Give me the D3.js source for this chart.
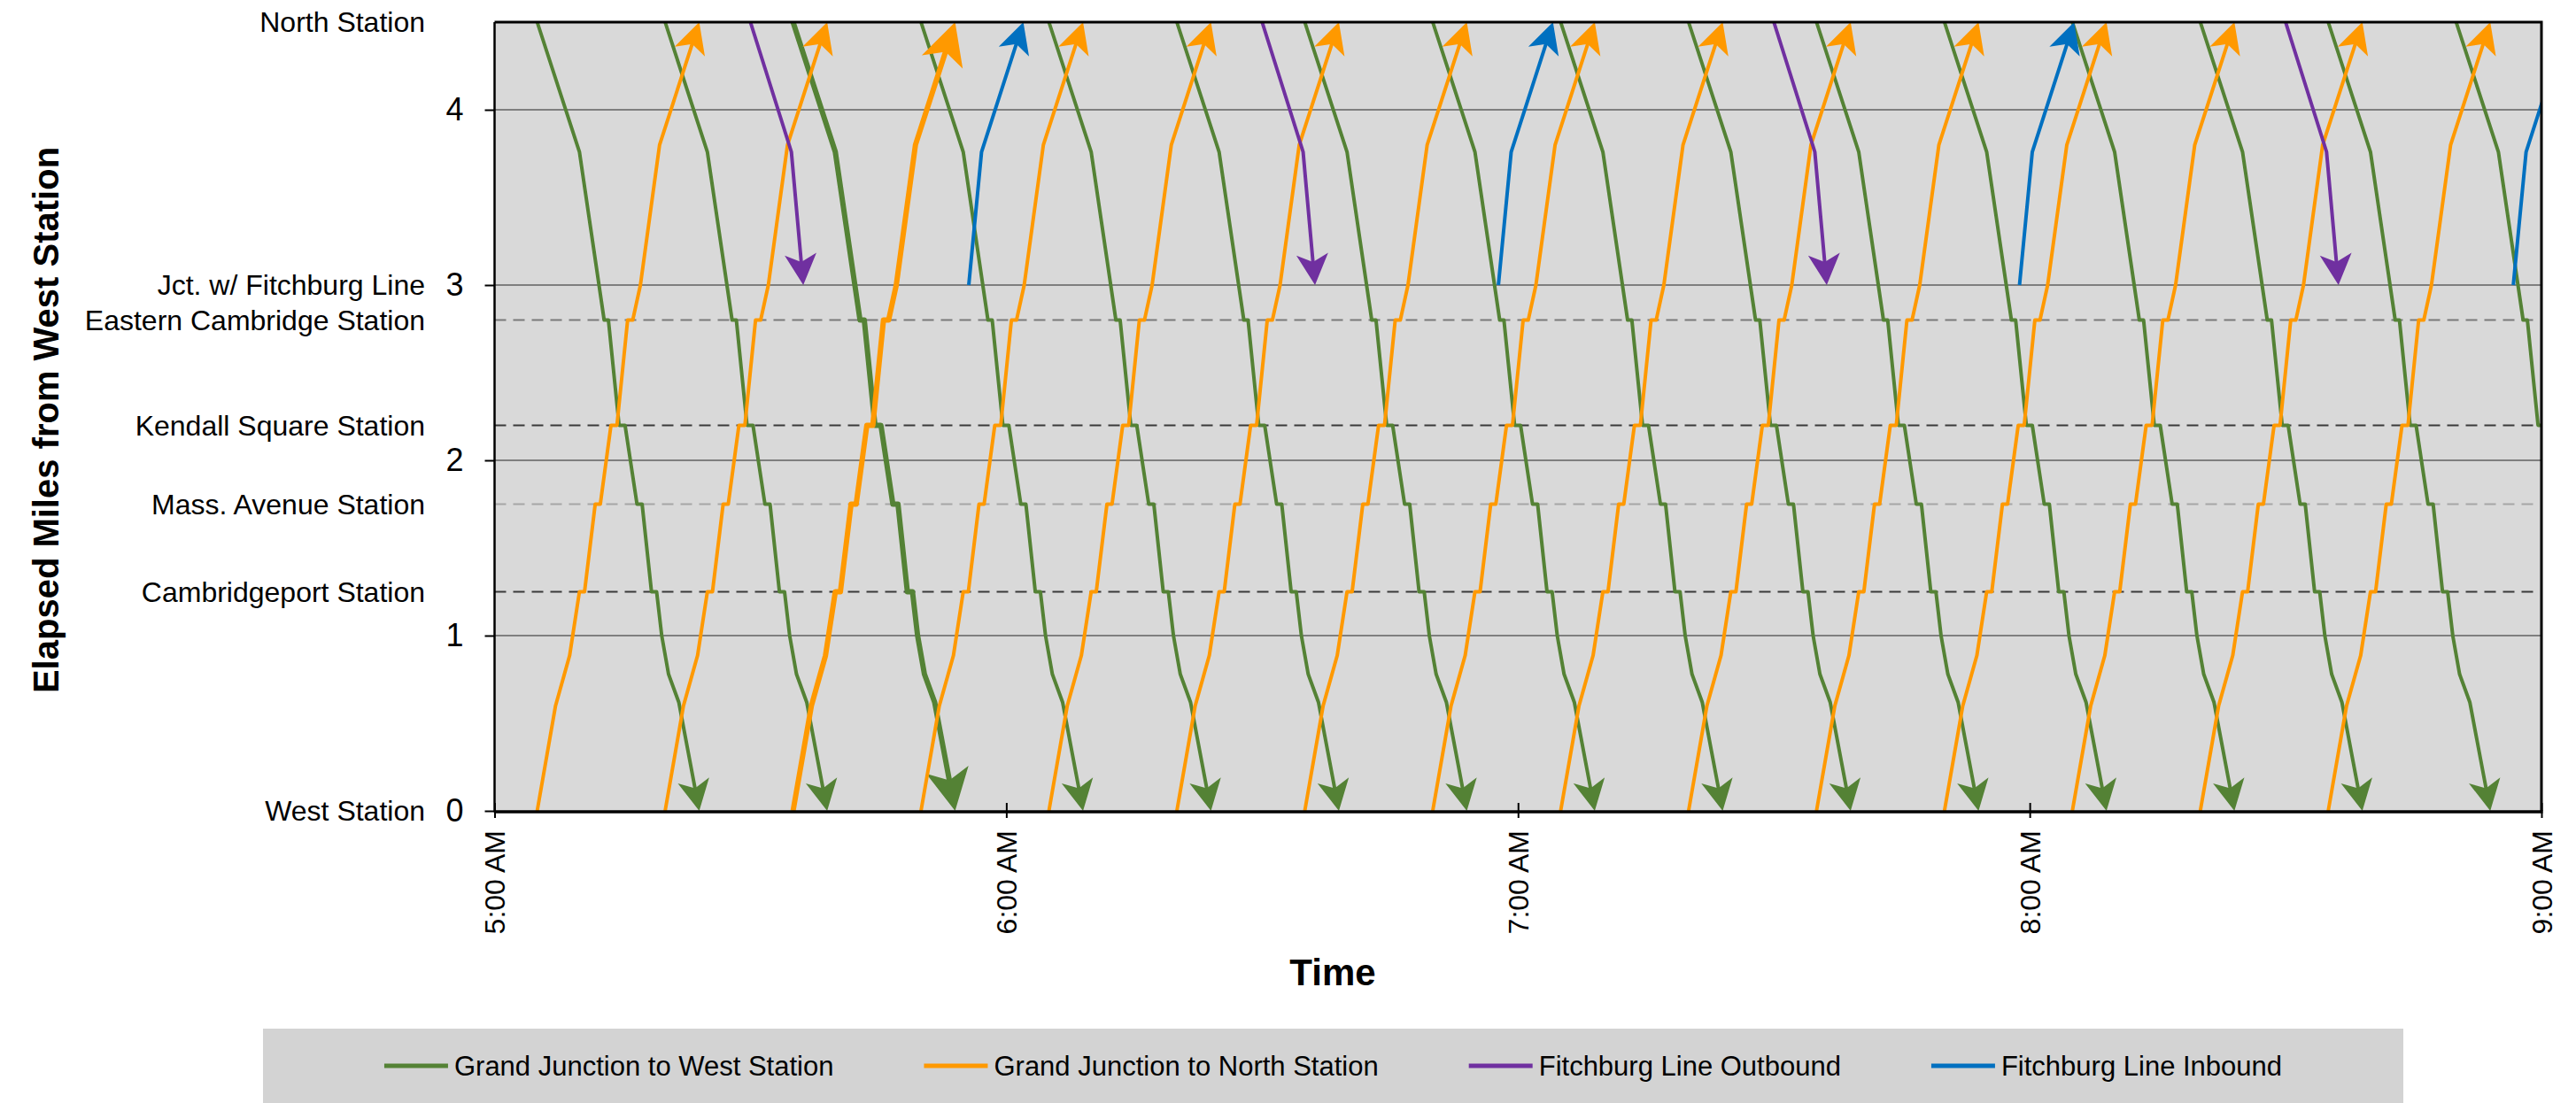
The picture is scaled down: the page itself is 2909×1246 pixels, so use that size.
<!DOCTYPE html>
<html>
<head>
<meta charset="utf-8">
<script src="https://cdn.jsdelivr.net/npm/d3@7"></script>
<style>
  html, body { margin: 0; padding: 0; background: #ffffff; }
  svg { display: block; }
  text { font-family: Arial, "Liberation Sans", Helvetica, sans-serif; fill: #000; }
</style>
</head>
<body>
<svg id="chart" width="2909" height="1246"></svg>
<script>
// ---- Timetable: departure time of each trip from its origin (h:mm[:ss]) ----
const westboundDepartures = ["5:05","5:20","5:35","5:50","6:05","6:20","6:35","6:50",
                             "7:05","7:20","7:35","7:50","8:05","8:20","8:35","8:50"];
const northboundDepartures = ["5:05","5:20","5:35","5:50","6:05","6:20","6:35","6:50",
                              "7:05","7:20","7:35","7:50","8:05","8:20","8:35"];
const fitchburgOutboundDepartures = ["5:30","6:30","7:30","8:30"];
const fitchburgInboundDepartures = ["5:55:36","6:57:42","7:58:48","8:56:42"];
// Grand Junction trips drawn with a heavier stroke
const highlightedDepartures = ["5:35"];

// ---- Run profiles: [minutes after departure, miles from West Station] ----
const westboundRun = [[0,4.5],[4.95,3.76],[7.85,2.8],[8.35,2.8],[9.6,2.2],[10.3,2.2],
                      [11.7,1.75],[12.3,1.75],[13.4,1.25],[14.0,1.25],[14.6,1.0],
                      [15.4,0.78],[16.6,0.62],[19.0,0]];
const northboundRun = [[0,0],[2.15,0.6],[3.8,0.886],[4.95,1.25],[5.55,1.25],[6.8,1.75],
                       [7.4,1.75],[8.65,2.2],[9.35,2.2],[10.6,2.8],[11.2,2.8],[12.1,3.0],
                       [14.35,3.8],[19.0,4.5]];
const fitchburgOutboundRun = [[0,4.5],[4.8,3.76],[6.2,3.0]];
const fitchburgInboundRun = [[0,3.0],[1.5,3.76],[6.4,4.5]];

// ---- Axes and labels ----
const stationNames = ["North Station","Jct. w/ Fitchburg Line","Eastern Cambridge Station",
                      "Kendall Square Station","Mass. Avenue Station","Cambridgeport Station","West Station"];
const stationMiles = [4.5, 3.0, 2.8, 2.2, 1.75, 1.25, 0];
const platformMiles = [2.8, 2.2, 1.75, 1.25];
const mileTicks = [0, 1, 2, 3, 4];
const timeTicks = ["5:00","6:00","7:00","8:00","9:00"];
const seriesNames = ["Grand Junction to West Station","Grand Junction to North Station",
                     "Fitchburg Line Outbound","Fitchburg Line Inbound"];

// ---- Styling ----
const seriesColors = ["#548235", "#FF9900", "#7030A0", "#0070C0"];
const platformStroke = ["#7a7a7a", "#3a3a3a", "#a6a6a6", "#3a3a3a"];

const W = 2909, H = 1246;
const plot = { left: 558.5, right: 2870, top: 25, bottom: 916 };

const parseClock = (s) => {
  const p = s.split(":").map(Number);
  return new Date(2000, 0, 1, p[0], p[1], p[2] || 0);
};

const x = d3.scaleTime()
  .domain([parseClock(timeTicks[0]), parseClock(timeTicks[timeTicks.length - 1])])
  .range([plot.left, plot.right]);
const y = d3.scaleLinear().domain([0, 4.5]).range([plot.bottom, plot.top]);

const svg = d3.select("#chart");

// plot background
svg.append("rect")
  .attr("x", plot.left).attr("y", plot.top)
  .attr("width", plot.right - plot.left).attr("height", plot.bottom - plot.top)
  .attr("fill", "#d9d9d9");

// major gridlines
svg.append("g").selectAll("line")
  .data(mileTicks.filter(d => d > 0))
  .join("line")
  .attr("x1", plot.left).attr("x2", plot.right)
  .attr("y1", d => y(d)).attr("y2", d => y(d))
  .attr("stroke", "#7f7f7f").attr("stroke-width", 2);

// station reference lines (dashed)
svg.append("g").selectAll("line")
  .data(platformMiles)
  .join("line")
  .attr("x1", plot.left).attr("x2", plot.right - 6)
  .attr("y1", d => y(d)).attr("y2", d => y(d))
  .attr("stroke", (d, i) => platformStroke[i])
  .attr("stroke-width", 2)
  .attr("stroke-dasharray", "13,8");

// ---- trips ----
svg.append("defs").append("clipPath").attr("id", "plotClip")
  .append("rect")
  .attr("x", plot.left).attr("y", plot.top - 2)
  .attr("width", plot.right - plot.left).attr("height", plot.bottom - plot.top + 4);

const trips = [];
function addTrips(departures, run, series) {
  departures.forEach(dep => {
    const t0 = parseClock(dep);
    trips.push({
      series,
      heavy: series < 2 && highlightedDepartures.includes(dep),
      points: run.map(([m, mi]) => [new Date(t0.getTime() + m * 60000), mi])
    });
  });
}
addTrips(westboundDepartures, westboundRun, 0);
addTrips(northboundDepartures, northboundRun, 1);
addTrips(fitchburgOutboundDepartures, fitchburgOutboundRun, 2);
addTrips(fitchburgInboundDepartures, fitchburgInboundRun, 3);

const tripLayer = svg.append("g").attr("clip-path", "url(#plotClip)");
const line = d3.line().x(d => d[0]).y(d => d[1]);

trips.forEach(trip => {
  const px = trip.points.map(d => [x(d[0]), y(d[1])]);
  const tip = px[px.length - 1];
  const prev = px[px.length - 2];
  const ang = Math.atan2(tip[1] - prev[1], tip[0] - prev[0]);
  const k = trip.heavy ? 1.35 : 1;
  // pull the stroke end back under the arrowhead
  const trim = 14 * k;
  const body = px.slice(0, -1).concat([[tip[0] - Math.cos(ang) * trim, tip[1] - Math.sin(ang) * trim]]);
  const color = seriesColors[trip.series];
  tripLayer.append("path")
    .attr("d", line(body))
    .attr("fill", "none")
    .attr("stroke", color)
    .attr("stroke-width", trip.heavy ? 6 : 4)
    .attr("stroke-linejoin", "round");
  tripLayer.append("path")
    .attr("d", `M0,0 L${-35 * k},${-18 * k} L${-26 * k},0 L${-35 * k},${18 * k} Z`)
    .attr("fill", color)
    .attr("transform", `translate(${tip[0]},${tip[1]}) rotate(${ang * 180 / Math.PI})`);
});

// ---- frame ----
svg.append("path")
  .attr("d", `M${plot.left},${plot.top}H${plot.right}V${plot.bottom}`)
  .attr("fill", "none").attr("stroke", "#000").attr("stroke-width", 3);
svg.append("line")
  .attr("x1", plot.left).attr("x2", plot.left)
  .attr("y1", plot.top).attr("y2", plot.bottom + 1.5)
  .attr("stroke", "#000").attr("stroke-width", 2.5);
svg.append("line")
  .attr("x1", plot.left).attr("x2", plot.right + 1.5)
  .attr("y1", plot.bottom + 1).attr("y2", plot.bottom + 1)
  .attr("stroke", "#000").attr("stroke-width", 3.5);

// ---- y axis ----
const yAxis = svg.append("g")
  .attr("transform", `translate(${plot.left},0)`)
  .call(d3.axisLeft(y).tickValues(mileTicks).tickSize(11).tickPadding(24).tickFormat(d3.format("d")));
yAxis.select(".domain").remove();
yAxis.selectAll(".tick line").attr("stroke", "#000").attr("stroke-width", 2);
yAxis.selectAll(".tick text")
  .attr("font-size", 36).attr("font-family", 'Arial, "Liberation Sans", sans-serif').attr("fill", "#000");

// station names beside the distance axis
svg.append("g").selectAll("text")
  .data(stationNames)
  .join("text")
  .attr("x", 480)
  .attr("y", (d, i) => y(stationMiles[i]))
  .attr("dy", "0.35em")
  .attr("text-anchor", "end")
  .attr("font-size", 32)
  .text(d => d);

// ---- x axis ----
const xAxis = svg.append("g")
  .attr("transform", `translate(0,${plot.bottom + 1})`)
  .call(d3.axisBottom(x).tickValues(timeTicks.map(parseClock)).tickSize(0)
        .tickFormat(d3.timeFormat("%-I:%M %p")));
xAxis.select(".domain").remove();
xAxis.selectAll(".tick line")
  .attr("y1", -10).attr("y2", 7).attr("stroke", "#000").attr("stroke-width", 2);
xAxis.selectAll(".tick text")
  .attr("font-size", 32).attr("font-family", 'Arial, "Liberation Sans", sans-serif').attr("fill", "#000")
  .attr("text-anchor", "end")
  .attr("transform", "rotate(-90)")
  .attr("x", -21).attr("y", 0).attr("dy", "0.35em");

// ---- axis titles ----
svg.append("text")
  .attr("transform", `translate(52,${(plot.top + plot.bottom) / 2 + 4}) rotate(-90)`)
  .attr("text-anchor", "middle").attr("dy", "0.35em")
  .attr("font-size", 40).attr("font-weight", "bold")
  .text("Elapsed Miles from West Station");

svg.append("text")
  .attr("x", 1505).attr("y", 1098).attr("dy", "0.35em")
  .attr("text-anchor", "middle")
  .attr("font-size", 42).attr("font-weight", "bold")
  .text("Time");

// ---- legend ----
const legendBox = { x: 297, y: 1162, w: 2417, h: 90 };
svg.append("rect")
  .attr("x", legendBox.x).attr("y", legendBox.y)
  .attr("width", legendBox.w).attr("height", legendBox.h)
  .attr("fill", "#d3d3d3");

const legend = svg.append("g");
const sampleLen = 72, sampleGap = 7, itemGap = 102;
const legendY = 1204;
let cursor = 0;
const items = seriesNames.map((name, i) => {
  const g = legend.append("g");
  g.append("line")
    .attr("x1", 0).attr("x2", sampleLen)
    .attr("y1", 0).attr("y2", 0)
    .attr("stroke", seriesColors[i]).attr("stroke-width", 5);
  const t = g.append("text")
    .attr("x", sampleLen + sampleGap).attr("y", 0).attr("dy", "0.35em")
    .attr("font-size", 31)
    .text(name);
  const w = sampleLen + sampleGap + t.node().getComputedTextLength();
  g.attr("transform", `translate(${cursor},${legendY})`);
  cursor += w + itemGap;
  return g;
});
const total = cursor - itemGap;
legend.attr("transform", `translate(${legendBox.x + (legendBox.w - total) / 2},0)`);
</script>
</body>
</html>
